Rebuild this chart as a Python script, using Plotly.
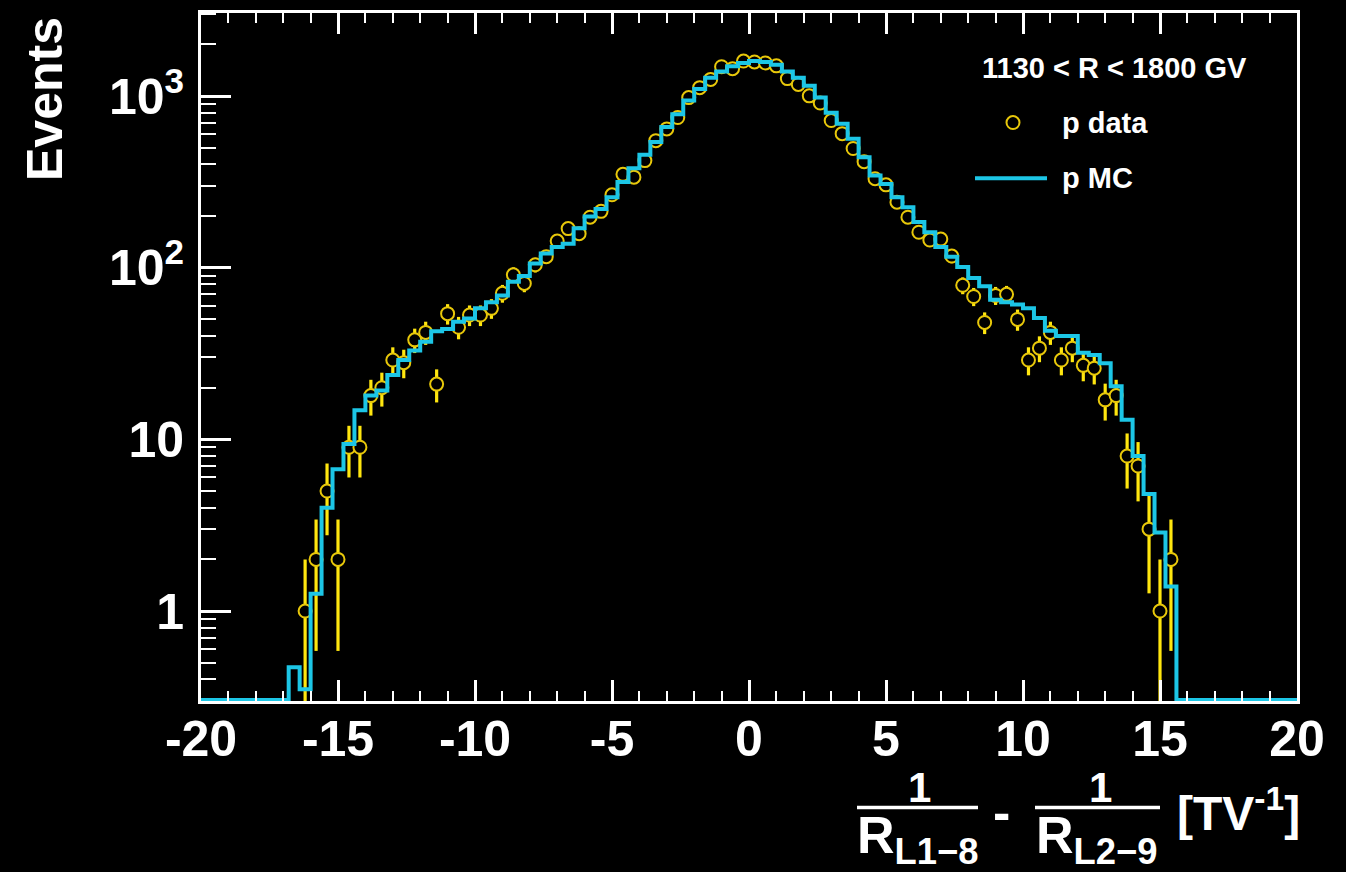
import numpy as np
import plotly.graph_objects as go

# ---------------- data ----------------
x_min, x_max = -20.0, 20.0
n_bins = 100

# p data counts, bins 9..88 (bin k spans [-20+0.4k, -20+0.4(k+1)])
data_first_bin = 9
data_counts = [
    1, 2, 5, 2, 9, 9, 18, 20, 29, 28,
    38, 42, 21, 54, 45, 53, 53, 58, 71, 91,
    81, 104, 116, 143, 169, 158, 197, 213, 266, 350,
    337, 421, 550, 644, 750, 980, 1120, 1251, 1483, 1445,
    1600, 1580, 1560, 1500, 1264, 1170, 1003, 911, 720, 604,
    495, 415, 330, 304, 241, 197, 161, 145, 147, 117,
    79, 68, 48, 69, 70, 50, 29, 34, 42, 29,
    34, 27, 26, 17, 18, 8, 7, 3, 1, 2,
]

# p MC (weighted), bins 8..88
mc_first_bin = 8
mc_values = [
    0.47, 0.35, 1.26, 4.0, 6.7, 9.4, 14.8, 18.0, 19.3, 23.7,
    29, 33, 37, 42.6, 44, 48.5, 50.7, 58, 63, 69,
    83, 89.6, 106, 121, 132, 138, 170, 199, 220, 257,
    316, 380, 455, 540, 660, 785, 943, 1100, 1280, 1390,
    1490, 1560, 1600, 1580, 1520, 1390, 1280, 1150, 980, 800,
    690, 565, 440, 345, 308, 257, 225, 185, 161, 132,
    116, 101, 87, 78, 65, 63, 61, 58, 51, 43,
    40, 40, 32, 31, 27.8, 20.4, 13, 8, 4.8, 2.87,
    1.39,
]

x_tick_vals = [-20, -15, -10, -5, 0, 5, 10, 15, 20]
x_tick_text = ["-20", "-15", "-10", "-5", "0", "5", "10", "15", "20"]
y_tick_vals = [1, 10, 100, 1000]
y_tick_text = ["1", "10", "10<sup>2</sup>", "10<sup>3</sup>"]
y_minor_vals = [0.3, 0.4, 0.5, 0.6, 0.7, 0.8, 0.9,
                2, 3, 4, 5, 6, 7, 8, 9,
                20, 30, 40, 50, 60, 70, 80, 90,
                200, 300, 400, 500, 600, 700, 800, 900,
                2000, 3000]

legend_header = "1130 < R < 1800 GV"
legend_data = "p data"
legend_mc = "p MC"

# ---------------- build ----------------
edges = np.linspace(x_min, x_max, n_bins + 1)
centers = 0.5 * (edges[:-1] + edges[1:])

data_full = np.zeros(n_bins)
data_full[data_first_bin:data_first_bin + len(data_counts)] = data_counts
mc_full = np.zeros(n_bins)
mc_full[mc_first_bin:mc_first_bin + len(mc_values)] = mc_values

y_log_range = [-0.524, 3.484]
floor_val = 10 ** (y_log_range[0] + 0.006)

mask = data_full > 0
xd = centers[mask]
yd = data_full[mask]
ed = np.sqrt(yd)

mc_draw = np.where(mc_full > 0, mc_full, floor_val)
mc_y = np.append(mc_draw, mc_draw[-1])

YELLOW = "#ffe60f"
GOLD = "#e8c80a"
CYAN = "#1cc6e6"
WHITE = "#ffffff"
FONT = "Liberation Sans"

fig = go.Figure()
fig.add_trace(go.Scatter(
    x=xd, y=yd, mode="markers",
    marker=dict(symbol="circle", size=13, color="black",
                line=dict(color=GOLD, width=2)),
    error_y=dict(type="data", array=ed, color=YELLOW, thickness=3.2, width=0),
    showlegend=False, cliponaxis=True,
))
fig.add_trace(go.Scatter(
    x=edges, y=mc_y, mode="lines", line=dict(color=CYAN, width=4, shape="hv"),
    showlegend=False,
))

W, H = 1346, 872
L, R, T, B = 201, 49, 10, 171
pw, ph = W - L - R, H - T - B


def px(xp):
    return (xp - L) / pw


def py(yp):
    return (H - B - yp) / ph


fig.update_layout(
    width=W, height=H,
    margin=dict(l=L, r=R, t=T, b=B, pad=0),
    paper_bgcolor="black", plot_bgcolor="black",
    font=dict(family=FONT, color=WHITE, size=28, weight="bold"),
    xaxis=dict(
        range=[x_min, x_max], tickmode="array", tickvals=x_tick_vals, ticktext=x_tick_text,
        ticks="inside", ticklen=21, tickwidth=2.5, tickcolor=WHITE,
        showline=True, linecolor=WHITE, linewidth=3, mirror="ticks",
        showgrid=False, zeroline=False,
        tickfont=dict(family=FONT, size=50, color=WHITE, weight="bold"),
        ticklabelstandoff=-8,
        minor=dict(dtick=1, tick0=0, ticks="inside", ticklen=10, tickwidth=2, tickcolor=WHITE,
                   showgrid=False),
    ),
    yaxis=dict(
        type="log", range=y_log_range, tickmode="array",
        tickvals=y_tick_vals, ticktext=y_tick_text,
        ticks="inside", ticklen=30, tickwidth=2.5, tickcolor=WHITE,
        showline=True, linecolor=WHITE, linewidth=3, mirror=True,
        showgrid=False, zeroline=False,
        tickfont=dict(family=FONT, size=50, color=WHITE, weight="bold"),
        ticklabelstandoff=4,
        minor=dict(tickmode="array", tickvals=y_minor_vals, ticks="inside", ticklen=15,
                   tickwidth=2, tickcolor=WHITE, showgrid=False),
    ),
)

ann = []
shp = []
# y title
ann.append(dict(text="Events", xref="paper", yref="paper", x=px(45), y=py(12),
                xanchor="center", yanchor="top", textangle=-90, showarrow=False,
                font=dict(size=50, family=FONT, color=WHITE, weight="bold")))
# legend
ann.append(dict(text=legend_header, xref="paper", yref="paper", x=px(1114), y=py(65),
                xanchor="center", yanchor="middle", showarrow=False,
                font=dict(size=29, family=FONT, color=WHITE, weight="bold")))
ann.append(dict(text=legend_data, xref="paper", yref="paper", x=px(1060), y=py(120),
                xanchor="left", yanchor="middle", showarrow=False,
                font=dict(size=29, family=FONT, color=WHITE, weight="bold")))
ann.append(dict(text=legend_mc, xref="paper", yref="paper", x=px(1060), y=py(176),
                xanchor="left", yanchor="middle", showarrow=False,
                font=dict(size=29, family=FONT, color=WHITE, weight="bold")))
shp.append(dict(type="circle", xref="paper", yref="paper",
                x0=px(1006.5), x1=px(1019.5), y0=py(126.5), y1=py(113.5),
                line=dict(color=GOLD, width=2), fillcolor="black"))
shp.append(dict(type="line", xref="paper", yref="paper",
                x0=px(975), x1=px(1047), y0=py(176), y1=py(176),
                line=dict(color=CYAN, width=4)))

# x title: 1/R_L1-8 - 1/R_L2-9 [TV^-1]
tf = dict(family=FONT, color=WHITE, weight="bold")
ann.append(dict(text="1", xref="paper", yref="paper", x=px(919), y=py(788),
                xanchor="center", yanchor="middle", showarrow=False, font=dict(size=42, **tf)))
ann.append(dict(text="1", xref="paper", yref="paper", x=px(1100), y=py(788),
                xanchor="center", yanchor="middle", showarrow=False, font=dict(size=42, **tf)))
shp.append(dict(type="line", xref="paper", yref="paper", x0=px(857), x1=px(978),
                y0=py(808), y1=py(808), line=dict(color=WHITE, width=3.5)))
shp.append(dict(type="line", xref="paper", yref="paper", x0=px(1035), x1=px(1160),
                y0=py(808), y1=py(808), line=dict(color=WHITE, width=3.5)))
ann.append(dict(text="R<sub>L1\u22128</sub>", xref="paper", yref="paper", x=px(855), y=py(840),
                xanchor="left", yanchor="middle", showarrow=False, font=dict(size=52, **tf)))
ann.append(dict(text="R<sub>L2\u22129</sub>", xref="paper", yref="paper", x=px(1034), y=py(840),
                xanchor="left", yanchor="middle", showarrow=False, font=dict(size=52, **tf)))
ann.append(dict(text="-", xref="paper", yref="paper", x=px(1001), y=py(812),
                xanchor="center", yanchor="middle", showarrow=False, font=dict(size=52, **tf)))
ann.append(dict(text="[TV<sup>-1</sup>]", xref="paper", yref="paper", x=px(1175), y=py(810),
                xanchor="left", yanchor="middle", showarrow=False, font=dict(size=48, **tf)))

fig.update_layout(annotations=ann, shapes=shp)
fig.write_html("out.html")
